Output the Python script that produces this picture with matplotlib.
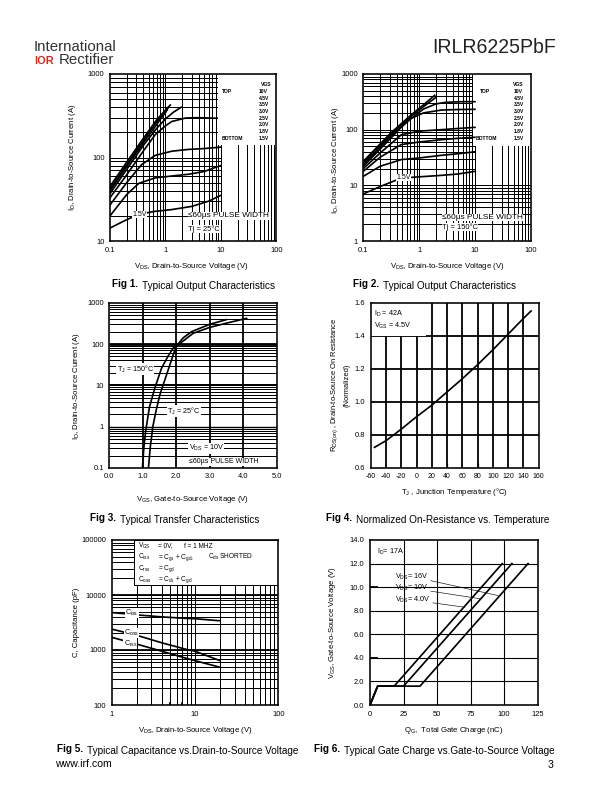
import matplotlib
matplotlib.use('Agg')
import matplotlib.patches as patches
import matplotlib.pyplot as plt
from matplotlib.ticker import NullLocator

plt.rcParams['font.family'] = ['Liberation Sans', 'DejaVu Sans']
plt.rcParams['mathtext.fontset'] = 'custom'
plt.rcParams['mathtext.rm'] = 'Liberation Sans'
plt.rcParams['mathtext.it'] = 'Liberation Sans'
plt.rcParams['mathtext.default'] = 'regular'
plt.rcParams['axes.unicode_minus'] = False

# ---- Fig 1: output characteristics, Tj = 25C
vgs_steps = ['10V', '4.5V', '3.5V', '3.0V', '2.5V', '2.0V', '1.8V', '1.5V']
f1_vds = [
    [0.1, 0.2, 0.4, 0.7, 1.0, 1.22],
    [0.1, 0.2, 0.4, 0.7, 1.0, 1.13],
    [0.1, 0.2, 0.4, 0.7, 1.06],
    [0.1, 0.2, 0.4, 0.7, 1.0, 1.4, 1.92],
    [0.1, 0.2, 0.4, 0.65, 1.0, 1.3, 2.3, 4.0, 8.5],
    [0.1, 0.2, 0.37, 0.65, 1.3, 2.6, 5.0, 9.8],
    [0.1, 0.2, 0.33, 0.65, 1.3, 2.6, 5.0, 9.8],
    [0.1, 0.2, 0.32, 0.6, 1.3, 3.0, 6.0, 9.7],
]
f1_id = [
    [45, 88, 170, 285, 370, 425],
    [42, 82, 160, 270, 345, 400],
    [40, 78, 150, 250, 372],
    [37, 72, 140, 225, 290, 350, 400],
    [33, 62, 120, 187, 240, 270, 297, 300, 295],
    [27, 50, 82, 106, 119, 125, 128, 133],
    [20, 36, 49, 57, 60, 63, 68, 80],
    [14.3, 18, 20.7, 22.5, 23.8, 26, 30, 35],
]

# ---- Fig 2: output characteristics, Tj = 150C
f2_vds = [
    [0.1, 0.31, 0.73, 1.2, 1.9],
    [0.1, 0.31, 0.73, 1.2, 2.0],
    [0.1, 0.31, 0.73, 1.2, 2.0, 3.0, 6.0, 10.0],
    [0.1, 0.31, 0.63, 1.2, 2.5, 5.0, 10.0],
    [0.1, 0.2, 0.48, 1.0, 2.5, 5.0, 10.0],
    [0.1, 0.2, 0.48, 1.0, 2.5, 5.0, 10.0],
    [0.1, 0.2, 0.48, 1.0, 2.5, 5.0, 10.0],
    [0.1, 0.2, 0.48, 1.0, 2.5, 5.0, 10.0],
]
f2_id = [
    [27, 87, 186, 280, 414],
    [26, 82, 175, 260, 380],
    [24, 76, 160, 235, 290, 310, 318, 318],
    [22, 70, 150, 200, 225, 230, 232],
    [20, 38, 81, 94, 100, 105, 110],
    [17.8, 32, 54, 60, 66, 70, 73],
    [14.5, 22, 29, 31, 34.6, 37, 40],
    [7.0, 9.5, 13.5, 14.2, 15.1, 16, 17.8],
]

# ---- Fig 3: transfer characteristics
f3_vgs_25 = [1.17, 1.22, 1.3, 1.4, 1.51, 1.71, 1.91, 2.0, 2.2, 2.46, 3.0, 3.5]
f3_id_25 = [0.1, 0.3, 1.0, 2.5, 5.9, 18, 55, 87, 140, 200, 300, 390]
f3_vgs_150 = [0.99, 1.03, 1.085, 1.2, 1.36, 1.56, 1.75, 1.91, 2.0, 2.5, 3.0,
              3.5, 4.1]
f3_id_150 = [0.1, 0.3, 0.77, 3.0, 8.6, 26, 50, 80, 88, 181, 253, 320, 418]

# ---- Fig 4: normalized on-resistance
f4_tj = [-55, -40, -20, 0, 20, 40, 60, 80, 100, 120, 140, 150]
f4_rds = [0.725, 0.765, 0.835, 0.91, 0.98, 1.06, 1.14, 1.225, 1.315, 1.41,
          1.505, 1.55]

# ---- Fig 5: capacitance
f5_vds = [1, 2, 4, 8, 10, 20]
f5_ciss = [4800, 4350, 4000, 3750, 3700, 3400]
f5_coss = [2400, 1850, 1350, 1020, 950, 640]
f5_crss = [1700, 1280, 950, 700, 640, 485]

# ---- Fig 6: gate charge
f6_qg_4v = [0, 5.7, 18, 98.6]
f6_qg_10v = [0, 5.7, 25, 105.8]
f6_qg_16v = [0, 5.7, 37.3, 117.8]
f6_vgs = [0, 1.6, 1.6, 12]

W, H = 612.0, 792.0
NARROW = ['Liberation Sans Narrow', 'Liberation Sans']
LW = 1.7
LAB = 7.8


def box(left, top, right, bottom):
    return [left / W, 1 - bottom / H, (right - left) / W, (bottom - top) / H]


def style(ax):
    for s in ax.spines.values():
        s.set_linewidth(1.6)
        s.set_zorder(6)
    ax.tick_params(length=0, labelsize=7.5, pad=5.5)
    ax.xaxis.set_minor_locator(NullLocator())
    ax.yaxis.set_minor_locator(NullLocator())


def decades(lo, hi):
    return [k * 10.0 ** e for e in range(lo, hi) for k in range(1, 10)][1:]


def main():
    fig = plt.figure(figsize=(W / 72, H / 72), dpi=72, facecolor='white')

    def t(x, y, s, **kw):
        kw.setdefault('fontsize', 6)
        return fig.text(x / W, 1 - y / H, s, **kw)

    white = dict(fc='white', ec='none', pad=0.2)
    tight = dict(fc='white', ec='none', pad=0.05)

    # header
    t(34, 51, 'International', fontsize=15, family=NARROW, color='#333333')
    t(34, 64, 'IOR', fontsize=11, weight='bold', color='#d42a1c')
    t(59, 64, 'Rectifier', fontsize=15, family=NARROW, color='#333333')
    t(556, 53, 'IRLR6225PbF', fontsize=19.5, ha='right', color='#222222')

    # ---------------- Fig 1 ----------------
    ax1 = fig.add_axes(box(110, 74, 276.5, 241))
    ax1.set_xscale('log')
    ax1.set_yscale('log')
    ax1.set_xlim(0.1, 100)
    ax1.set_ylim(10, 1000)
    ax1.vlines(decades(-1, 2), 10, 1000, colors='k', lw=1.0, zorder=1)
    ax1.hlines(decades(1, 3), 0.1, 10, colors='k', lw=1.0, zorder=1)
    ax1.add_patch(patches.Rectangle((0.649, 0.575), 0.351, 0.425,
                                    transform=ax1.transAxes, fc='white',
                                    ec='none', zorder=2))
    for v, i in zip(f1_vds, f1_id):
        ax1.plot(v, i, color='k', lw=LW, zorder=3)
    style(ax1)
    ax1.set_xticks([0.1, 1, 10, 100], ['0.1', '1', '10', '100'])
    ax1.set_yticks([10, 100, 1000], ['10', '100', '1000'])
    ax1.text(0.34, 20.9, '1.5V', fontsize=7, ha='center', va='center',
             bbox=white, zorder=4)
    ax1.text(0.47, 0.15, '≤60µs PULSE WIDTH', transform=ax1.transAxes,
             fontsize=8.3, va='center', bbox=tight, zorder=4)
    ax1.text(0.47, 0.07, 'Tj = 25°C', transform=ax1.transAxes,
             fontsize=7.5, va='center', bbox=tight, zorder=4)
    t(271, 86, 'VGS', fontsize=5, weight='bold', ha='right')
    t(222, 93, 'TOP', fontsize=5, weight='bold')
    t(222, 140, 'BOTTOM', fontsize=5, weight='bold')
    for k, lab in enumerate(vgs_steps):
        t(258.5, 93 + k * 6.67, lab, fontsize=5, weight='bold')
    t(72, 157, 'I$_D$, Drain-to-Source Current (A)', rotation=90,
      ha='center', va='center', fontsize=LAB)
    t(191, 266, 'V$_{DS}$, Drain-to-Source Voltage (V)', ha='center',
      va='center', fontsize=LAB)

    # ---------------- Fig 2 ----------------
    ax2 = fig.add_axes(box(363.3, 74, 530.7, 241))
    ax2.set_xscale('log')
    ax2.set_yscale('log')
    ax2.set_xlim(0.1, 100)
    ax2.set_ylim(1, 1000)
    ax2.vlines(decades(-1, 2), 1, 1000, colors='k', lw=1.0, zorder=1)
    ax2.hlines(decades(0, 2)[:9], 0.1, 100, colors='k', lw=1.0, zorder=1)
    ax2.hlines(decades(0, 3)[9:], 0.1, 10, colors='k', lw=1.0, zorder=1)
    ax2.add_patch(patches.Rectangle((0.655, 0.569), 0.345, 0.431,
                                    transform=ax2.transAxes, fc='white',
                                    ec='none', zorder=2))
    for v, i in zip(f2_vds, f2_id):
        ax2.plot(v, i, color='k', lw=LW, zorder=3)
    style(ax2)
    ax2.set_xticks([0.1, 1, 10, 100], ['0.1', '1', '10', '100'])
    ax2.set_yticks([1, 10, 100, 1000], ['1', '10', '100', '1000'])
    ax2.text(0.52, 13.7, '1.5V', fontsize=7, ha='center', va='center',
             bbox=white, zorder=4)
    ax2.text(0.47, 0.14, '≤60µs PULSE WIDTH', transform=ax2.transAxes,
             fontsize=8.3, va='center', bbox=tight, zorder=4)
    ax2.text(0.47, 0.085, 'Tj = 150°C', transform=ax2.transAxes,
             fontsize=7.5, va='center', bbox=tight, zorder=4)
    t(523, 86, 'VGS', fontsize=5, weight='bold', ha='right')
    t(480, 93, 'TOP', fontsize=5, weight='bold')
    t(476, 140, 'BOTTOM', fontsize=5, weight='bold')
    for k, lab in enumerate(vgs_steps):
        t(513.5, 93 + k * 6.67, lab, fontsize=5, weight='bold')
    t(335, 160, 'I$_D$, Drain-to-Source Current (A)', rotation=90,
      ha='center', va='center', fontsize=LAB)
    t(447, 266, 'V$_{DS}$, Drain-to-Source Voltage (V)', ha='center',
      va='center', fontsize=LAB)

    # ---------------- Fig 3 ----------------
    ax3 = fig.add_axes(box(109.3, 302.7, 276.7, 468))
    ax3.set_yscale('log')
    ax3.set_xlim(0, 5)
    ax3.set_ylim(0.1, 1000)
    ax3.vlines([1, 2, 3, 4], 0.1, 1000, colors='k', lw=1.8, zorder=1)
    ax3.hlines(decades(-1, 3), 0, 5, colors='k', lw=1.0, zorder=1)
    ax3.hlines([1], 0, 5, colors='k', lw=1.4, zorder=1)
    ax3.hlines([10], 0, 5, colors='k', lw=2.0, zorder=1)
    ax3.hlines([100], 0, 5, colors='k', lw=2.8, zorder=1)
    ax3.plot(f3_vgs_25, f3_id_25, color='k', lw=LW, zorder=3)
    ax3.plot(f3_vgs_150, f3_id_150, color='k', lw=LW, zorder=3)
    style(ax3)
    ax3.set_xticks([0, 1, 2, 3, 4, 5],
                   ['0.0', '1.0', '2.0', '3.0', '4.0', '5.0'])
    ax3.set_yticks([0.1, 1, 10, 100, 1000],
                   ['0.1', '1', '10', '100', '1000'])
    ax3.text(0.22, 25, 'T$_J$ = 150°C', fontsize=7.3, va='center',
             bbox=white, zorder=4)
    ax3.text(1.72, 2.4, 'T$_J$ = 25°C', fontsize=7.3, va='center',
             bbox=white, zorder=4)
    ax3.text(2.37, 0.3, 'V$_{DS}$ = 10V', fontsize=7.3, va='center',
             bbox=white, zorder=4)
    ax3.text(2.37, 0.14, '≤60µs PULSE WIDTH', fontsize=7, va='center',
             bbox=white, zorder=4)
    t(77, 386, 'I$_D$, Drain-to-Source Current (A)', rotation=90,
      ha='center', va='center', fontsize=LAB)
    t(193, 500, 'V$_{GS}$, Gate-to-Source Voltage (V)', ha='center',
      va='center', fontsize=LAB)

    # ---------------- Fig 4 ----------------
    ax4 = fig.add_axes(box(370.7, 302.7, 538.7, 468))
    ax4.set_xlim(-60, 160)
    ax4.set_ylim(0.6, 1.6)
    ax4.vlines(range(-40, 160, 20), 0.6, 1.6, colors='k', lw=1.8, zorder=1)
    ax4.hlines([0.8, 1.0, 1.2, 1.4], -60, 160, colors='k', lw=1.8, zorder=1)
    ax4.add_patch(patches.Rectangle((-60, 1.4), 72, 0.2, fc='white',
                                    ec='none', zorder=2))
    ax4.vlines([40, 80], 0.6, 0.63, colors='k', lw=1.2, zorder=1)
    ax4.plot(f4_tj, f4_rds, color='k', lw=LW, zorder=3)
    style(ax4)
    ax4.tick_params(axis='x', labelsize=7)
    ax4.set_xticks(range(-60, 161, 20))
    ax4.set_yticks([0.6, 0.8, 1.0, 1.2, 1.4, 1.6],
                   ['0.6', '0.8', '1.0', '1.2', '1.4', '1.6'])
    ax4.text(-56, 1.535, 'I$_D$ = 42A', fontsize=7.3, va='center', zorder=4)
    ax4.text(-56, 1.46, 'V$_{GS}$ = 4.5V', fontsize=7.3, va='center',
             zorder=4)
    t(335, 385, 'R$_{DS(on)}$ , Drain-to-Source On Resistance', rotation=90,
      ha='center', va='center', fontsize=7.5)
    t(347, 385, '(Normalized)', rotation=90, ha='center', va='center',
      fontsize=7.5)
    t(455, 492, 'T$_J$ , Junction Temperature (°C)', ha='center',
      va='center', fontsize=LAB)

    # ---------------- Fig 5 ----------------
    ax5 = fig.add_axes(box(111.7, 540, 278.3, 705))
    ax5.set_xscale('log')
    ax5.set_yscale('log')
    ax5.set_xlim(1, 100)
    ax5.set_ylim(100, 100000)
    ax5.vlines(decades(0, 2), 100, 100000, colors='k', lw=1.0, zorder=1)
    ax5.hlines(decades(2, 5), 1, 100, colors='k', lw=1.0, zorder=1)
    ax5.hlines([1000, 10000], 1, 100, colors='k', lw=1.8, zorder=1)
    ax5.vlines([5, 7], 100, 115, colors='k', lw=1.6, zorder=1)
    ax5.add_patch(patches.Rectangle((0.136, 0.727), 0.864, 0.273,
                                    transform=ax5.transAxes, fc='white',
                                    ec='k', lw=1.0, zorder=2))
    ax5.plot(f5_vds, f5_ciss, color='k', lw=LW, zorder=3)
    ax5.plot(f5_vds, f5_coss, color='k', lw=LW, zorder=3)
    ax5.plot(f5_vds, f5_crss, color='k', lw=LW, zorder=3)
    style(ax5)
    ax5.set_xticks([1, 10, 100], ['1', '10', '100'])
    ax5.set_yticks([100, 1000, 10000, 100000],
                   ['100', '1000', '10000', '100000'])
    ax5.text(1.75, 4700, 'C$_{iss}$', fontsize=7.3, ha='center',
             va='center', bbox=tight, zorder=4)
    ax5.text(1.72, 2050, 'C$_{oss}$', fontsize=7.3, ha='center',
             va='center', bbox=tight, zorder=4)
    ax5.text(1.68, 1270, 'C$_{rss}$', fontsize=7.3, ha='center',
             va='center', bbox=tight, zorder=4)
    rows = [('V$_{GS}$', '= 0V,'), ('C$_{iss}$', '= C$_{gs}$ + C$_{gd}$,'),
            ('C$_{rss}$', '= C$_{gd}$'), ('C$_{oss}$', '= C$_{ds}$ + C$_{gd}$')]
    for k, (a, b) in enumerate(rows):
        y = 546 + k * 11.3
        t(138.5, y, a, fontsize=6.5, va='center')
        t(158, y, b, fontsize=6.5, va='center')
    t(184, 546, 'f = 1 MHZ', fontsize=6.5, va='center')
    t(208, 557.3, 'C$_{ds}$ SHORTED', fontsize=6.5, va='center')
    t(77, 622, 'C, Capacitance (pF)', rotation=90, ha='center',
      va='center', fontsize=LAB)
    t(195, 731, 'V$_{DS}$, Drain-to-Source Voltage (V)', ha='center',
      va='center', fontsize=LAB)

    # ---------------- Fig 6 ----------------
    ax6 = fig.add_axes(box(370, 540, 537.7, 705))
    ax6.set_xlim(0, 125)
    ax6.set_ylim(0, 14)
    ax6.vlines([25, 50, 75, 100], 0, 14, colors='k', lw=1.1, zorder=1)
    ax6.hlines([2, 4, 6, 8, 10, 12], 0, 125, colors='k', lw=1.1, zorder=1)
    ax6.hlines([4, 10], 0, 6, colors='k', lw=1.8, zorder=1)
    ax6.plot(f6_qg_16v, f6_vgs, color='k', lw=LW, zorder=3)
    ax6.plot(f6_qg_10v, f6_vgs, color='k', lw=LW, zorder=3)
    ax6.plot(f6_qg_4v, f6_vgs, color='k', lw=LW, zorder=3)
    style(ax6)
    ax6.set_xticks([0, 25, 50, 75, 100, 125])
    ax6.set_yticks([0, 2, 4, 6, 8, 10, 12, 14],
                   ['0.0', '2.0', '4.0', '6.0', '8.0', '10.0', '12.0',
                    '14.0'])
    ax6.text(5, 13.0, 'I$_D$= 17A', fontsize=7.3, va='center', zorder=4)
    leaders = [('V$_{DS}$= 16V', 10.9, (95.7, 9.28)),
               ('V$_{DS}$= 10V', 9.9, (83.0, 9.0)),
               ('V$_{DS}$= 4.0V', 8.9, (70.8, 8.29))]
    for lab, y, end in leaders:
        ax6.annotate(lab, xy=end, xytext=(19, y), fontsize=7.3,
                     va='center', zorder=4,
                     arrowprops=dict(arrowstyle='-', lw=0.6, color='k',
                                     shrinkA=0, shrinkB=0))
    t(332, 622, 'V$_{GS}$, Gate-to-Source Voltage (V)', rotation=90,
      ha='center', va='center', fontsize=LAB)
    t(454, 731, 'Q$_G$,  Total Gate Charge (nC)', ha='center',
      va='center', fontsize=LAB)

    # captions
    captions = [(112, 287, 'Fig 1.', 'Typical Output Characteristics', ax1),
                (353, 287, 'Fig 2.', 'Typical Output Characteristics', ax2),
                (90, 521, 'Fig 3.', 'Typical Transfer Characteristics', ax3),
                (326, 521, 'Fig 4.',
                 'Normalized On-Resistance vs. Temperature', ax4),
                (57, 752, 'Fig 5.',
                 'Typical Capacitance vs.Drain-to-Source Voltage', ax5),
                (314, 752, 'Fig 6.',
                 'Typical Gate Charge vs.Gate-to-Source Voltage', ax6)]
    for x, y, head, body, ax in captions:
        h = t(x, y, head, fontsize=10, weight='bold')
        ax.annotate(body, xy=(1, 0), xycoords=h, xytext=(4, 0),
                    textcoords='offset points', fontsize=10,
                    annotation_clip=False)

    t(55, 767, 'www.irf.com', fontsize=10.5)
    t(553, 768, '3', fontsize=10.5, ha='right')

    fig.savefig('out.png', dpi=72, facecolor='white')


if __name__ == '__main__':
    main()
